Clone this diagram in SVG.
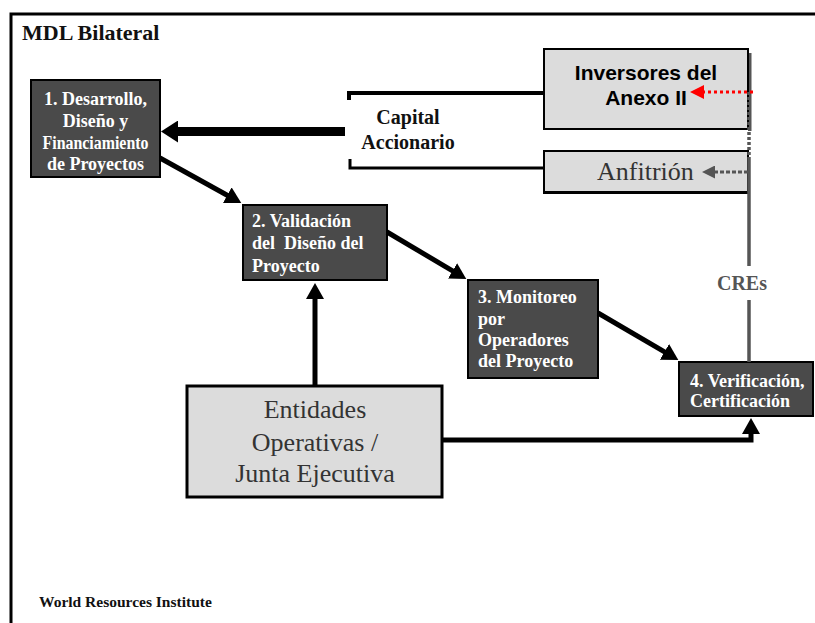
<svg xmlns="http://www.w3.org/2000/svg" width="815" height="623" viewBox="0 0 815 623">
<style>
.bg{fill:#ffffff}
.frame{fill:none;stroke:#000;stroke-width:3}
.dark{fill:#4a4a4a;stroke:#000;stroke-width:2}
.light{fill:#dcdcdc;stroke:#000;stroke-width:2}
.wt{font-family:"Liberation Serif","Times New Roman",serif;font-weight:bold;font-size:18px;fill:#ffffff}
.bt{font-family:"Liberation Serif","Times New Roman",serif;font-weight:bold;fill:#111}
.st{font-family:"Liberation Serif","Times New Roman",serif;fill:#333}
.conn{fill:none;stroke:#000;stroke-width:5}
.gray{fill:none;stroke:#555;stroke-width:3.5}
</style>
<defs>
<marker id="ah" viewBox="0 0 16 18" markerWidth="16" markerHeight="18" refX="3" refY="9" orient="auto" markerUnits="userSpaceOnUse">
<path d="M0,0 L16,9 L0,18 z" fill="#000"/>
</marker>
<marker id="ahbig" viewBox="0 0 17 22" markerWidth="17" markerHeight="22" refX="3" refY="11" orient="auto" markerUnits="userSpaceOnUse">
<path d="M0,0 L17,11 L0,22 z" fill="#000"/>
</marker>
<marker id="ahred" viewBox="0 0 14 14" markerWidth="14" markerHeight="14" refX="2" refY="7" orient="auto" markerUnits="userSpaceOnUse">
<path d="M0,0 L14,7 L0,14 z" fill="#ff0000"/>
</marker>
<marker id="ahgray" viewBox="0 0 13 13" markerWidth="13" markerHeight="13" refX="2" refY="6.5" orient="auto" markerUnits="userSpaceOnUse">
<path d="M0,0 L13,6.5 L0,13 z" fill="#555"/>
</marker>
</defs>
<rect class="bg" x="0" y="0" width="815" height="623"/>
<path class="frame" d="M11,623 V14 H815"/>
<text class="bt" x="22" y="40" font-size="22">MDL Bilateral</text>

<g id="node1">
<rect class="dark" x="31" y="80" width="129" height="97"/>
<text class="wt" x="95.5" y="105" text-anchor="middle">1. Desarrollo,</text>
<text class="wt" x="95.5" y="127" text-anchor="middle">Diseño y</text>
<text class="wt" x="95.5" y="149" text-anchor="middle" textLength="106" lengthAdjust="spacingAndGlyphs">Financiamiento</text>
<text class="wt" x="95.5" y="170" text-anchor="middle">de Proyectos</text>
</g>

<g id="node2">
<rect class="dark" x="243" y="205" width="144" height="75"/>
<text class="wt" x="252" y="227">2. Validación</text>
<text class="wt" x="252" y="249" xml:space="preserve">del  Diseño del</text>
<text class="wt" x="252" y="272">Proyecto</text>
</g>

<g id="node3">
<rect class="dark" x="468" y="280" width="130" height="98"/>
<text class="wt" x="478" y="303">3. Monitoreo</text>
<text class="wt" x="478" y="325">por</text>
<text class="wt" x="478" y="346">Operadores</text>
<text class="wt" x="478" y="367">del Proyecto</text>
</g>

<g id="node4">
<rect class="dark" x="679" y="362" width="134" height="54"/>
<text class="wt" x="690" y="387">4. Verificación,</text>
<text class="wt" x="690" y="407">Certificación</text>
</g>

<g id="inversores">
<rect x="748" y="53" width="3.5" height="78" fill="#555"/>
<rect class="light" x="544" y="49" width="204" height="80"/>
<text x="646" y="80" text-anchor="middle" font-family="'Liberation Sans',Arial,sans-serif" font-weight="bold" font-size="21" fill="#000">Inversores del</text>
<text x="646" y="105" text-anchor="middle" font-family="'Liberation Sans',Arial,sans-serif" font-weight="bold" font-size="21" fill="#000">Anexo II</text>
</g>

<g id="anfitrion">
<rect class="light" x="544" y="151" width="204" height="42"/>
<line x1="543" y1="192.5" x2="749" y2="192.5" stroke="#000" stroke-width="3"/>
<text class="st" x="597" y="180" font-size="26">Anfitrión</text>
</g>

<g id="entidades">
<rect class="light" x="187" y="386" width="255" height="111" style="stroke-width:3"/>
<text class="st" x="315" y="418" font-size="26" text-anchor="middle">Entidades</text>
<text class="st" x="315" y="451" font-size="26" text-anchor="middle">Operativas /</text>
<text class="st" x="315" y="482" font-size="26" text-anchor="middle">Junta Ejecutiva</text>
</g>

<g id="connectors">
<path d="M349,100 V93 H544" fill="none" stroke="#000" stroke-width="4"/>
<path d="M350,159 V168 H544" fill="none" stroke="#000" stroke-width="3"/>
<line x1="345" y1="131.5" x2="175" y2="131.5" stroke="#000" stroke-width="9" marker-end="url(#ahbig)"/>
<line class="conn" x1="160" y1="158" x2="229.9" y2="196.7" marker-end="url(#ah)"/>
<line class="conn" x1="387" y1="232" x2="455.1" y2="272.4" marker-end="url(#ah)"/>
<line class="conn" x1="598" y1="313" x2="667.1" y2="353.4" marker-end="url(#ah)"/>
<line class="conn" x1="315" y1="386" x2="315" y2="296" marker-end="url(#ah)"/>
<path class="conn" d="M442,440 H751 V431" marker-end="url(#ah)"/>
<line x1="749" y1="92" x2="749" y2="160" stroke="#555" stroke-width="3.5" stroke-dasharray="3,2"/>
<line class="gray" x1="749" y1="160" x2="749" y2="266"/>
<line class="gray" x1="749" y1="300" x2="749" y2="362"/>
<line x1="753" y1="92" x2="702" y2="92" stroke="#ff0000" stroke-width="3" stroke-dasharray="3,3" marker-end="url(#ahred)"/>
<line x1="748" y1="172" x2="713" y2="172" stroke="#555" stroke-width="3" stroke-dasharray="4,2" marker-end="url(#ahgray)"/>
<text class="bt" x="408" y="124" font-size="20" text-anchor="middle">Capital</text>
<text class="bt" x="408" y="149" font-size="20" text-anchor="middle">Accionario</text>
<text class="bt" x="742" y="290" font-size="20" text-anchor="middle" style="fill:#555">CREs</text>
</g>

<text class="bt" x="39" y="607" font-size="15.5">World Resources Institute</text>
</svg>
